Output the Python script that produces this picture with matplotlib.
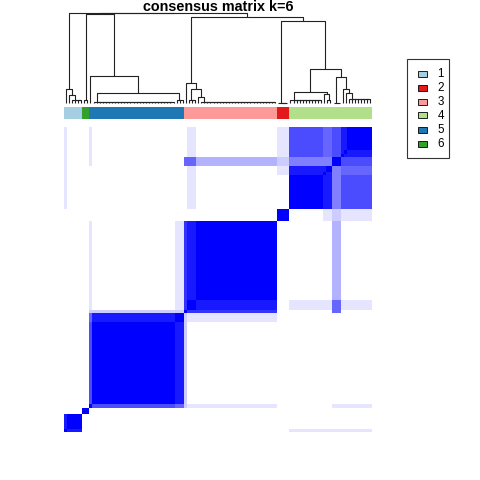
import numpy as np
import matplotlib
matplotlib.use("Agg")
import matplotlib.pyplot as plt
from matplotlib.colors import ListedColormap
from matplotlib.patches import Rectangle
from matplotlib.collections import LineCollection

# ---------------- data ----------------
title = "consensus matrix k=6"
cluster_labels = ["1", "2", "3", "4", "5", "6"]
cluster_colors = ["#A6CEE3", "#E31A1C", "#FB9A99", "#B2DF8A", "#1F78B4", "#33A02C"]

# sub-groups of samples, in the displayed order
group_names = ["A0", "A1a", "A1b", "B", "C0", "C1", "C2", "D0", "D1", "D2", "D3",
               "E", "F1", "F2a", "F2b", "F3", "F4a", "F4b", "F4c"]
group_sizes = [1, 1, 4, 2, 1, 27, 3, 1, 3, 1, 25, 4, 11, 1, 2, 3, 1, 1, 8]
group_cluster = [1, 1, 1, 6, 5, 5, 5, 3, 3, 3, 3, 2, 4, 4, 4, 4, 4, 4, 4]
within_consensus = [1.0, 1.0, 0.97, 0.97, 1.0, 0.99, 0.97, 1.0, 0.97, 1.0, 0.985,
                    1.0, 0.967, 1.0, 0.97, 1.0, 1.0, 1.0, 0.96]

F_all = ["F1", "F2a", "F2b", "F3", "F4a", "F4b", "F4c"]
F_not3 = ["F1", "F2a", "F2b", "F4a", "F4b", "F4c"]
F4 = ["F4a", "F4b", "F4c"]
between_consensus = [
    (["A0"], ["A1a", "A1b"], 0.84),
    (["A1a"], ["A1b"], 0.91),
    (["B"], ["C1"], 0.02),
    (["C0"], ["C1"], 0.71),
    (["C0"], ["C2"], 0.62),
    (["C1"], ["C2"], 0.89),
    (["D0"], ["D1", "D2", "D3"], 0.78),
    (["D1"], ["D2", "D3"], 0.84),
    (["D2"], ["D3"], 0.937),
    (["F1"], ["F2a", "F2b"], 0.874),
    (["F2a"], ["F2b"], 0.90),
    (["F1", "F2a", "F2b"], ["F3"], 0.50),
    (["F1"], F4, 0.68),
    (["F2a", "F2b"], F4, 0.62),
    (["F3"], F4, 0.715),
    (["F4a"], ["F4b", "F4c"], 0.85),
    (["F4b"], ["F4c"], 0.89),
    (["A0"], F_all, 0.12),
    (["D0"], ["C0", "C1", "C2"], 0.20),
    (["C0", "C2"], ["D1", "D2", "D3"], 0.12),
    (["C0"], ["F3"] + F4, 0.12),
    (["D0", "D1"], ["F3"], 0.58),
    (["D0"], F_not3, 0.05),
    (["D1"], F_not3, 0.12),
    (["D2", "D3"], ["F3"], 0.32),
    (["D2"], F_not3, 0.05),
    (["E"], ["F2a", "F2b"], 0.15),
    (["E"], ["F3"], 0.22),
    (["E"], F4, 0.13),
]

# ---------------- build consensus matrix ----------------
gidx = {g: i for i, g in enumerate(group_names)}
ng = len(group_names)
G = np.zeros((ng, ng))
for i, v in enumerate(within_consensus):
    G[i, i] = v
for rows, cols, v in between_consensus:
    for r in rows:
        for c in cols:
            G[gidx[r], gidx[c]] = v
            G[gidx[c], gidx[r]] = v
sample_group = np.repeat(np.arange(ng), group_sizes)
M = G[np.ix_(sample_group, sample_group)]
np.fill_diagonal(M, 1.0)
n = M.shape[0]
sample_cluster = np.array(group_cluster)[sample_group]


# ---------------- average-linkage clustering on 1 - consensus ----------------
def average_linkage(dist):
    N = dist.shape[0]
    D = dist.astype(float).copy()
    active = list(range(N))
    size = np.ones(N)
    node = list(range(N))
    merges = []
    for step in range(N - 1):
        act = np.array(active)
        sub = D[np.ix_(act, act)]
        iu = np.triu_indices(len(act), 1)
        vals = sub[iu]
        m = vals.min()
        k = np.nonzero(vals <= m + 1e-9)[0][-1]
        a, b = act[iu[0][k]], act[iu[1][k]]
        h = D[a, b]
        merges.append((node[a], node[b], h))
        others = act[(act != a) & (act != b)]
        newd = (size[a] * D[a, others] + size[b] * D[b, others]) / (size[a] + size[b])
        D[a, others] = newd
        D[others, a] = newd
        size[a] += size[b]
        node[a] = N + step
        active.remove(b)
    return merges


merges = average_linkage(1.0 - M)
children = {n + k: (l, r) for k, (l, r, h) in enumerate(merges)}
heights = {n + k: h for k, (l, r, h) in enumerate(merges)}
root = 2 * n - 2


def leaf_order(nd):
    out = []
    stack = [nd]
    while stack:
        x = stack.pop()
        if x < n:
            out.append(x)
        else:
            l, r = children[x]
            stack.append(r)
            stack.append(l)
    return out


order = leaf_order(root)
xpos = {}
for p, leaf in enumerate(order):
    xpos[leaf] = p + 0.5
ypos = {i: 0.0 for i in range(n)}
for k, (l, r, h) in enumerate(merges):
    nd = n + k
    xpos[nd] = (xpos[l] + xpos[r]) / 2.0
    ypos[nd] = h

segs = []
for k, (l, r, h) in enumerate(merges):
    segs.append([(xpos[l], ypos[l]), (xpos[l], h), (xpos[r], h), (xpos[r], ypos[r])])

Mo = M[np.ix_(order, order)]
side_cols = [cluster_colors[c - 1] for c in sample_cluster[order]]

# ---------------- figure ----------------
W = H = 480.0
fig = plt.figure(figsize=(4.8, 4.8), dpi=100)
fig.patch.set_facecolor("white")


def px_axes(x0, y0, x1, y1):
    return fig.add_axes([x0 / W, 1 - y1 / H, (x1 - x0) / W, (y1 - y0) / H])


hx0, hx1 = 64.3, 372.0

# dendrogram
axd = px_axes(hx0, 13.0, hx1, 103.0)
lc = LineCollection(segs, colors="#222222", linewidths=0.8, clip_on=False)
axd.add_collection(lc)
axd.set_xlim(0, n)
axd.set_ylim(0, heights[root])
axd.axis("off")

# column side colours
axs = px_axes(hx0, 106.7, hx1, 119.3)
rgb = np.array([matplotlib.colors.to_rgb(c) for c in side_cols])[None, :, :]
axs.imshow(rgb, aspect="auto", interpolation="nearest", extent=(0, n, 0, 1))
axs.set_xlim(0, n)
axs.axis("off")

# heatmap
levels = 11
greys = [255 - 25.5 * k for k in range(levels)]
cmap = ListedColormap([(g / 255.0, g / 255.0, 1.0) for g in greys])
axh = px_axes(hx0, 126.7, hx1, 432.0)
axh.imshow(Mo, origin="lower", extent=(0, n, 0, n), aspect="auto",
           interpolation="nearest", cmap=cmap, vmin=0, vmax=1)
axh.set_xlim(0, n)
axh.set_ylim(0, n)
axh.axis("off")

# title
fig.text(218.0 / W, 1 - 11.0 / H, title, ha="center", va="baseline",
         fontsize=10.4, fontweight="bold", family="Liberation Sans")

# legend (pixel coordinates)
axl = fig.add_axes([0, 0, 1, 1])
axl.set_xlim(0, W)
axl.set_ylim(H, 0)
axl.axis("off")
axl.patch.set_visible(False)
axl.add_patch(Rectangle((406.7, 59.0), 42.6, 99.3, fill=False, edgecolor="#333333", lw=0.8))
row_y = [73.7, 87.6, 101.5, 115.4, 129.5, 143.6]
for lab, col, yy in zip(cluster_labels, cluster_colors, row_y):
    axl.add_patch(Rectangle((418.0, yy - 3.0), 9.0, 6.0, facecolor=col, edgecolor="black", lw=0.6))
    axl.text(437.5, yy + 0.3, lab, ha="left", va="center", fontsize=8.4, family="Liberation Sans")

fig.savefig("out.png", dpi=100, facecolor="white")
